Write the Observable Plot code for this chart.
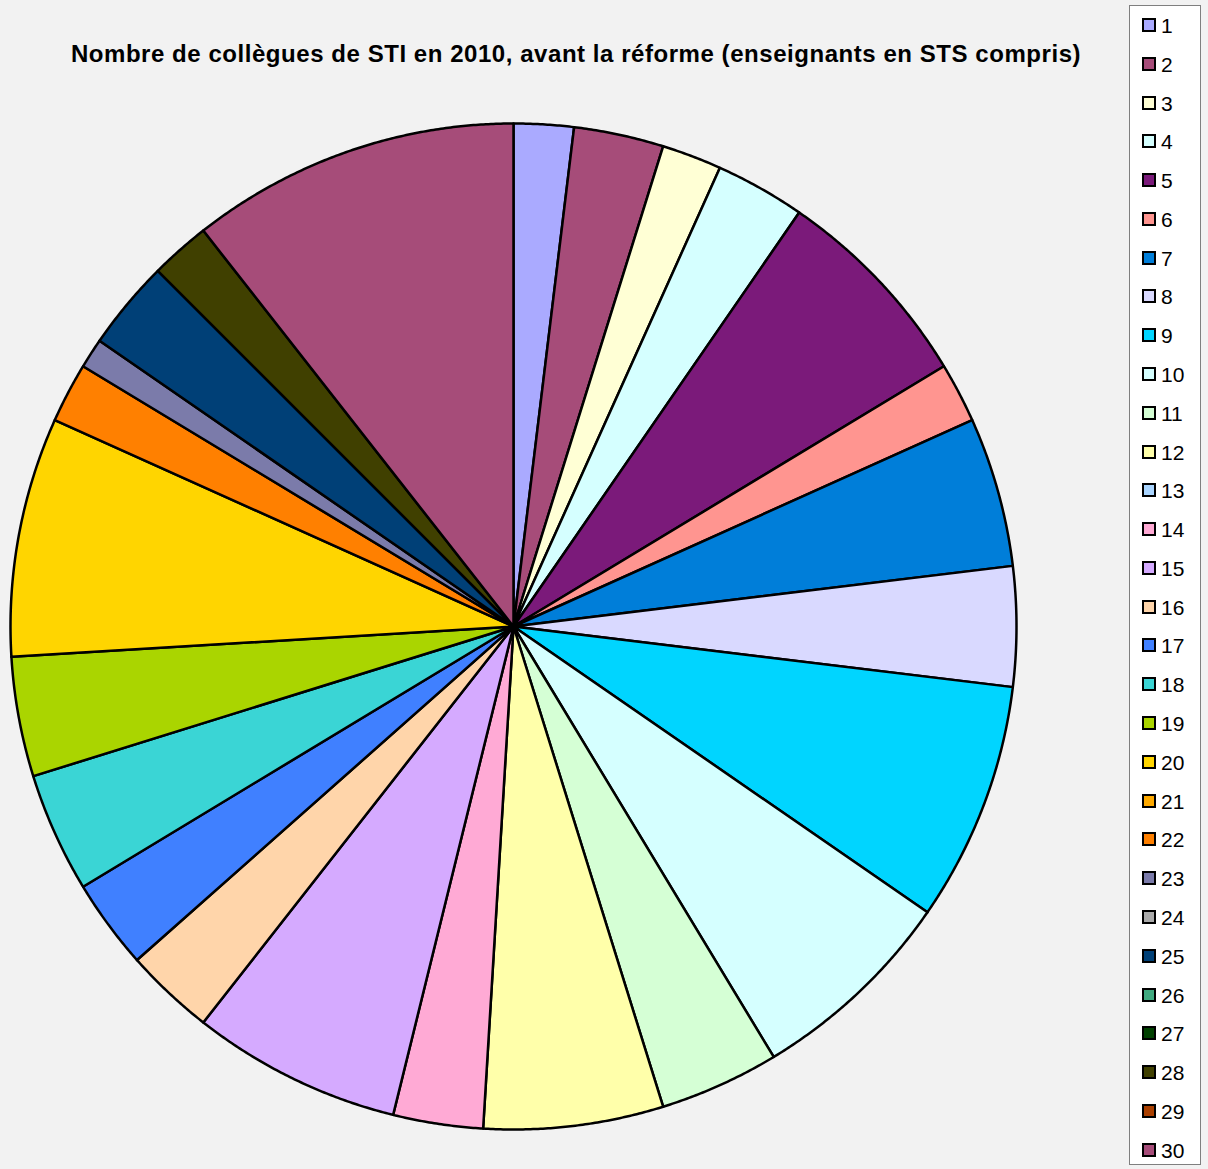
<!DOCTYPE html>
<html>
<head>
<meta charset="utf-8">
<script src="https://cdn.jsdelivr.net/npm/d3@7"></script>
<script src="https://cdn.jsdelivr.net/npm/@observablehq/plot@0.6"></script>
<style>
  html, body { margin: 0; padding: 0; background: #f2f2f2; }
  #wrap { position: relative; width: 1208px; height: 1169px; overflow: hidden; background: #f2f2f2; font-family: "Liberation Sans", Arial, sans-serif; }
  #title { position: absolute; left: 0; width: 1152px; top: 42px; line-height: 24px; text-align: center; font-size: 24px; font-weight: bold; letter-spacing: 0.55px; color: #000; white-space: nowrap; }
  #legend { position: absolute; left: 1129px; top: 5px; width: 70px; height: 1158px; background: #fff; border: 1px solid #7f7f7f; }
  .item { position: absolute; left: 12px; height: 20px; display: flex; align-items: center; }
  .sw { width: 10px; height: 10px; border: 2px solid #000; margin-right: 5px; }
  .lbl { font-size: 21px; line-height: 20px; color: #000; position: relative; top: 1px; }
  #chart { position: absolute; left: 0; top: 0; }
</style>
</head>
<body>
<div id="wrap">
  <div id="chart"></div>
  <div id="title">Nombre de collègues de STI en 2010, avant la réforme (enseignants en STS compris)</div>
  <div id="legend"></div>
</div>
<script>
const categories = ["1","2","3","4","5","6","7","8","9","10","11","12","13","14","15","16","17","18","19","20","21","22","23","24","25","26","27","28","29","30"];
const values = [2,3,2,3,7,2,5,4,8,7,4,6,0,3,7,3,3,4,4,8,0,2,1,0,3,0,0,2,0,11];
const colors = ["#aaaaff","#a64c79","#ffffd5","#d5ffff","#7b1a7a","#ff9590","#007ed9","#d9d9ff","#00d5ff","#d5ffff",
                "#d5ffd5","#ffffaa","#aad5ff","#ffaad5","#d5aaff","#ffd5aa","#4080ff","#3ad5d5","#aad500","#ffd500",
                "#ffaa00","#ff8000","#7b7baa","#aaaaaa","#004077","#40aa80","#004000","#404000","#aa4000","#a64c79"];

// slices via d3.pie (clockwise from top), polygon outlines in unit coordinates
const pie = d3.pie().sort(null).value(d => d.value);
const table = categories.map((c, i) => ({cat: c, value: values[i], color: colors[i]}));
const arcs = pie(table);
const pts = [];
arcs.forEach((a, i) => {
  if (a.endAngle - a.startAngle <= 0) return;
  const n = Math.max(2, Math.ceil((a.endAngle - a.startAngle) / 0.005));
  pts.push({slice: i, x: 0, y: 0, color: a.data.color});
  for (let k = 0; k <= n; k++) {
    const t = a.startAngle + (a.endAngle - a.startAngle) * k / n;
    pts.push({slice: i, x: Math.sin(t), y: Math.cos(t), color: a.data.color});
  }
  pts.push({slice: i, x: 0, y: 0, color: a.data.color});
});

const cx = 513, cy = 626, r = 503;
const plot = Plot.plot({
  width: 1208,
  height: 1169,
  margin: 0,
  style: {background: "transparent", overflow: "visible"},
  x: {domain: [-1, 1], range: [cx - r, cx + r], axis: null},
  y: {domain: [-1, 1], range: [cy + r, cy - r], axis: null},
  marks: [
    Plot.line(pts, {x: "x", y: "y", z: "slice", fill: "color", stroke: "#000", strokeWidth: 2.5, strokeLinejoin: "round", curve: "linear"})
  ]
});
document.getElementById("chart").appendChild(plot);

const legend = document.getElementById("legend");
categories.forEach((c, i) => {
  const it = document.createElement("div");
  it.className = "item";
  it.style.top = (9 + i * 38.78) + "px";
  const sw = document.createElement("div");
  sw.className = "sw";
  sw.style.background = colors[i];
  const lb = document.createElement("span");
  lb.className = "lbl";
  lb.textContent = c;
  it.appendChild(sw); it.appendChild(lb);
  legend.appendChild(it);
});
</script>
</body>
</html>
